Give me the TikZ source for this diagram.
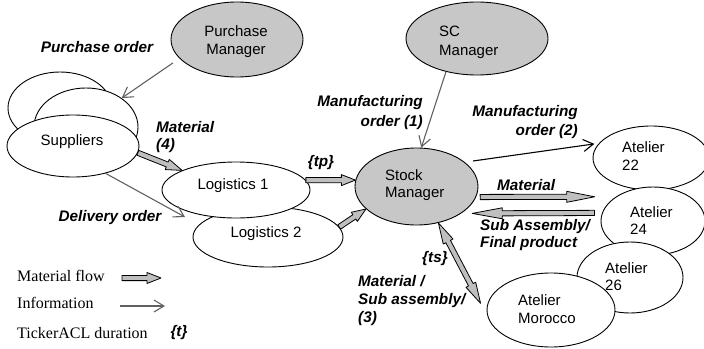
\documentclass[tikz,border=0pt]{standalone}
\usepackage{fontspec}
\setmainfont{Liberation Sans}
\newfontfamily\legfont{Liberation Serif}
\usetikzlibrary{shapes.geometric,arrows.meta,calc}

\tikzset{
  ell/.style={draw, ellipse, inner sep=0pt, line width=0.9pt, fill=white},
  mgr/.style={ell, fill=black!22},
  txt/.style={font=\fontsize{15}{17.5}\selectfont, inner sep=0pt, align=left},
  lbl/.style={font=\fontsize{15.3}{17}\selectfont\bfseries\itshape, inner sep=0pt},
  leg/.style={font=\fontsize{16}{17}\legfont, inner sep=0pt},
  info/.style={draw=black!62, line width=1.1pt, -{Straight Barb[length=10pt,width=12pt]}},
  infob/.style={info, draw=black},
  mat/.style={draw=black, line width=0.8pt, fill=black!25, line join=round},
}

% material-flow arrow: [head length]{from}{to}
\newcommand\matarr[3][14]{%
  \path #2 coordinate (maS) #3 coordinate (maE);
  \path ($(maE)!#1pt!(maS)$) coordinate (maH);
  \filldraw[mat] ($(maS)!2.6pt!90:(maE)$) -- ($(maH)!2.6pt!90:(maE)$)
    -- ($(maH)!5.5pt!90:(maE)$) -- (maE) -- ($(maH)!5.5pt!-90:(maE)$)
    -- ($(maH)!2.6pt!-90:(maE)$) -- ($(maS)!2.6pt!-90:(maE)$) -- cycle;}
% double-headed material arrow
\newcommand\matdarr[3][14]{%
  \path #2 coordinate (maS) #3 coordinate (maE);
  \path ($(maE)!#1pt!(maS)$) coordinate (maH)
        ($(maS)!#1pt!(maE)$) coordinate (maG);
  \filldraw[mat] (maS) -- ($(maG)!5.5pt!90:(maE)$) -- ($(maG)!2.6pt!90:(maE)$)
    -- ($(maH)!2.6pt!90:(maE)$) -- ($(maH)!5.5pt!90:(maE)$) -- (maE)
    -- ($(maH)!5.5pt!-90:(maE)$) -- ($(maH)!2.6pt!-90:(maE)$)
    -- ($(maG)!2.6pt!-90:(maE)$) -- ($(maG)!5.5pt!-90:(maE)$) -- cycle;}

\begin{document}
\begin{tikzpicture}[x=1pt, y=-1pt]
\useasboundingbox (0,0) rectangle (704,348);

% ellipses (back to front)
\node[ell, minimum width=104pt, minimum height=72pt] (sup3) at (60,108) {};
\node[ell, minimum width=104pt, minimum height=78pt] (sup2) at (86,127) {};
\node[ell, minimum width=132pt, minimum height=62pt] (sup) at (73,146) {};
\node[ell, minimum width=150pt, minimum height=60pt] (l2) at (268,237) {};
\node[ell, minimum width=148pt, minimum height=56pt] (l1) at (236,190) {};
\node[mgr, minimum width=132pt, minimum height=75pt] (pm) at (237,39.5) {};
\node[mgr, minimum width=142pt, minimum height=73pt] (sc) at (477,38.5) {};
\node[mgr, minimum width=123pt, minimum height=77pt] (sm) at (416.5,186.5) {};
\node[ell, minimum width=116pt, minimum height=64pt] (a22) at (651,158) {};
\node[ell, minimum width=104pt, minimum height=68pt] (a24) at (653,221) {};
\node[ell, minimum width=106pt, minimum height=71pt] (a26) at (630,277.5) {};
\node[ell, minimum width=128pt, minimum height=74pt] (mor) at (551,310) {};

% information arrows
\coordinate (dtip) at (185,217);
\draw[info] ([xshift=-8pt,yshift=-3pt]pm.200) -- (sup2.39);
\draw[info] (sc.227) -- (sm.83);
\draw[info] (sup.-40) -- (dtip);
\draw[infob] ([xshift=6pt,yshift=3pt]sm.24) -- ([xshift=-4pt]a22.165);

% material arrows
\matarr[16]{(sup.-6)}{(l1.160)}
\matarr[14]{(l1.8)}{(sm.174)}
\matarr[14]{(l2.8)}{(sm.204)}
\matarr[28]{([xshift=4pt]sm.-10)}{([xshift=-21pt]a24.147)}
\matarr[30]{([xshift=-7.5pt]a24.171)}{([xshift=11pt]sm.-31)}
\matdarr[21]{(sm.-59)}{([xshift=-7pt]mor.174)}

% node texts
\node[txt, align=center, font=\fontsize{15}{18}\selectfont] (pmT) at (236,42) {Purchase\\Manager};
\node[txt, anchor=west, font=\fontsize{15}{19}\selectfont] (scT) at (439,42) {SC\\Manager};
\node[txt] (supT) at (72,142) {Suppliers};
\node[txt] (l1T) at (233,186) {Logistics 1};
\node[txt] (l2T) at (266,234) {Logistics 2};
\node[txt, anchor=west, font=\fontsize{15}{16.5}\selectfont] (smT) at (385,185) {Stock\\Manager};
\node[txt, anchor=west] (a22T) at (622,156) {Atelier\\22};
\node[txt, anchor=west] (a24T) at (630,220.5) {Atelier\\24};
\node[txt, anchor=west] (a26T) at (605,276.5) {Atelier\\26};
\node[txt, anchor=west] (morT) at (518,309) {Atelier\\Morocco};

% labels
\node[lbl] (poL) at (97,47) {Purchase order};
\node[lbl, anchor=west, align=left, font=\fontsize{15.3}{16.5}\selectfont\bfseries\itshape] (m4L) at (156,137) {Material\\(4)};
\node[lbl] (tpL) at (321,163) {\{tp\}};
\node[lbl, anchor=east, align=right, font=\fontsize{15.3}{20}\selectfont\bfseries\itshape] (mo1L) at (423,113) {Manufacturing\\order (1)};
\node[lbl, anchor=east, align=right, font=\fontsize{15.3}{19}\selectfont\bfseries\itshape] (mo2L) at (578,122.5) {Manufacturing\\order (2)};
\node[lbl] (doL) at (110,218) {Delivery order};
\node[lbl, anchor=west] (matL) at (497,185) {Material};
\node[lbl, anchor=west, align=left, font=\fontsize{15.3}{16.5}\selectfont\bfseries\itshape] (saL) at (480,235) {Sub Assembly/\\Final product};
\node[lbl] (tsL) at (435,259) {\{ts\}};
\node[lbl, anchor=west, align=left, font=\fontsize{15.3}{18}\selectfont\bfseries\itshape] (m3L) at (358,301) {Material /\\Sub assembly/\\(3)};

% legend
\node[leg, anchor=west] (lg1) at (17,276) {Material flow};
\node[leg, anchor=west] (lg2) at (17,303) {Information};
\node[leg, anchor=west] (lg3) at (17,333) {TickerACL duration};
\node[lbl] (lg3t) at (179,333) {\{t\}};
\coordinate (lgm1) at (122,278);
\coordinate (lgm2) at (161,278);
\coordinate (lgi1) at (120,306);
\coordinate (lgi2) at (165,306);
\matarr[14]{(lgm1)}{(lgm2)}
\draw[info] (lgi1) -- (lgi2);
\end{tikzpicture}
\end{document}
